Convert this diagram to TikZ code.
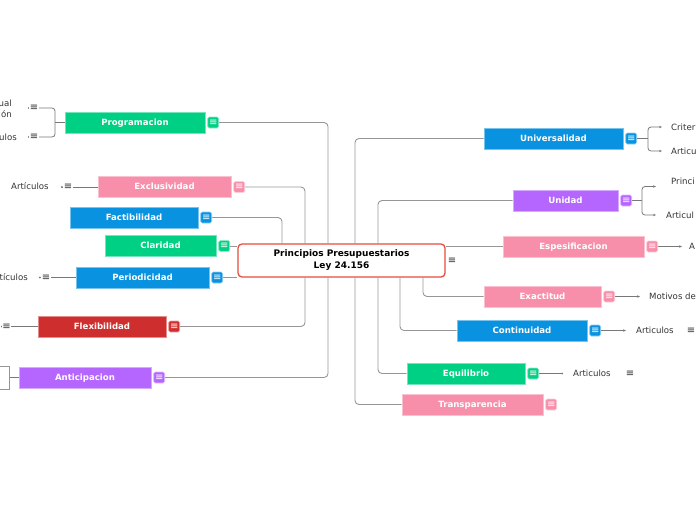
\documentclass[tikz,border=0pt]{standalone}
\usepackage{fontspec}
\setmainfont{DejaVu Sans}
\usetikzlibrary{arrows.meta, positioning, backgrounds}
\definecolor{mmgreen}{RGB}{0,208,132}
\definecolor{mmpink}{RGB}{248,143,170}
\definecolor{mmblue}{RGB}{8,146,224}
\definecolor{mmpurple}{RGB}{181,102,255}
\definecolor{mmred}{RGB}{207,46,46}
\definecolor{mmline}{RGB}{150,150,150}
\definecolor{mmtext}{RGB}{51,51,51}
\definecolor{mmcenter}{RGB}{231,76,60}

\begin{document}
\begin{tikzpicture}[x=1pt, y=-1pt,
  topic/.style={rectangle, fill=#1, draw=#1!55!white, line width=0.8pt, text=white,
                font=\fontsize{8.6}{10}\selectfont\bfseries, minimum height=21pt, inner sep=0pt,
                text centered, text depth=1pt},
  menu/.style={rectangle, rounded corners=1.5pt, fill=#1, draw=#1!45!white, line width=0.6pt,
               text=white, font=\fontsize{10}{10}\selectfont, minimum size=11pt, inner sep=0pt},
  leaf/.style={text=mmtext, font=\fontsize{8.6}{11}\selectfont, inner sep=0pt},
  note/.style={fill=white, text=mmtext, font=\fontsize{10}{10}\selectfont, inner sep=0.4pt},
  link/.style={draw=mmline, line width=0.9pt, rounded corners=4pt},
  leafarrow/.style={draw=mmline!80!black, line width=0.8pt, -{Stealth[length=3pt, width=2.4pt]}, rounded corners=3pt},
  leafdot/.style={draw=mmline!80!black, line width=0.8pt, -{Circle[length=1.8pt]}, rounded corners=3pt}
]
\useasboundingbox (0,0) rectangle (696,520);

% central topic
\node[rectangle, rounded corners=4pt, draw=mmcenter, line width=1.3pt, fill=white,
      minimum width=207pt, minimum height=33pt, align=center,
      font=\fontsize{9}{12}\selectfont\bfseries] (cen) at (341.5,260.5)
      {Principios Presupuestarios\\Ley 24.156};
\node[note] (cen-n) at (452,261) {≡};

% left topics
\node[topic=mmgreen,  minimum width=140pt] (prog) at (135,122.5) {Programacion};
\node[topic=mmpink,   minimum width=133pt] (excl) at (164.5,187) {Exclusividad};
\node[topic=mmblue,   minimum width=128pt] (fact) at (134,217.5) {Factibilidad};
\node[topic=mmgreen,  minimum width=111pt] (clar) at (160.5,246) {Claridad};
\node[topic=mmblue,   minimum width=133pt] (peri) at (142.5,277.5) {Periodicidad};
\node[topic=mmred,    minimum width=128pt] (flex) at (102,326.5) {Flexibilidad};
\node[topic=mmpurple, minimum width=132pt] (anti) at (85,377.5) {Anticipacion};

\node[menu=mmgreen,  right=2pt of prog] (prog-m) {≡};
\node[menu=mmpink,   right=2pt of excl] (excl-m) {≡};
\node[menu=mmblue,   right=2pt of fact] (fact-m) {≡};
\node[menu=mmgreen,  right=2pt of clar] (clar-m) {≡};
\node[menu=mmblue,   right=2pt of peri] (peri-m) {≡};
\node[menu=mmred,    right=2pt of flex] (flex-m) {≡};
\node[menu=mmpurple, right=2pt of anti] (anti-m) {≡};

% right topics
\node[topic=mmblue,   minimum width=139pt] (univ) at (553.5,138.5) {Universalidad};
\node[topic=mmpurple, minimum width=105pt] (unid) at (565.5,200.5) {Unidad};
\node[topic=mmpink,   minimum width=141pt] (espe) at (573.5,246.5) {Espesificacion};
\node[topic=mmpink,   minimum width=117pt] (exac) at (542.5,296.5) {Exactitud};
\node[topic=mmblue,   minimum width=130pt] (cont) at (522,330.5) {Continuidad};
\node[topic=mmgreen,  minimum width=118pt] (equi) at (466,373.5) {Equilibrio};
\node[topic=mmpink,   minimum width=141pt] (tran) at (472.5,404.5) {Transparencia};

\node[menu=mmblue,   right=2pt of univ] (univ-m) {≡};
\node[menu=mmpurple, right=2pt of unid] (unid-m) {≡};
\node[menu=mmpink,   right=2pt of espe] (espe-m) {≡};
\node[menu=mmpink,   right=2pt of exac] (exac-m) {≡};
\node[menu=mmblue,   right=2pt of cont] (cont-m) {≡};
\node[menu=mmgreen,  right=2pt of equi] (equi-m) {≡};
\node[menu=mmpink,   right=2pt of tran] (tran-m) {≡};

% left leaves
\coordinate (prog-j) at (55,122.5);
\coordinate (pa-d) at (28,108);
\coordinate (pb-d) at (28,137);
\node[note] (pa-n) at (34,108) {≡};
\node[note] (pb-n) at (34,137) {≡};
\node[leaf, anchor=east, align=right] (pa) at (12,108.5) {ual\\ón};
\node[leaf, anchor=east] (pb) at (17,137) {ulos};

\coordinate (ex-d) at (61,187);
\node[note] (ex-n) at (68,187) {≡};
\node[leaf, anchor=west] (ex) at (11,186.5) {Artículos};

\coordinate (pe-d) at (39,277.5);
\node[note] (pe-n) at (46,277.5) {≡};
\node[leaf, anchor=east] (pe) at (28,277.5) {tículos};

\coordinate (fl-d) at (1,326.5);
\node[note] (fl-n) at (6.5,326.5) {≡};

\node[rectangle, draw=mmline, line width=1pt, fill=white, minimum width=24pt,
      minimum height=23pt, anchor=east, inner sep=0pt] (an-c) at (10,377.5) {};

% right leaves
\coordinate (univ-j) at (648,138.5);
\node[leaf, anchor=west] (ua) at (671,127) {Criter};
\node[leaf, anchor=west] (ub) at (671,151) {Articu};
\coordinate (unid-j) at (642,200.5);
\coordinate (uc-t) at (656,186.5);
\coordinate (ud-t) at (656,215);
\node[leaf, anchor=west] (uc) at (671,181) {Princi};
\node[leaf, anchor=west] (ud) at (666,215) {Articul};
\node[leaf, anchor=west] (es) at (689,246.5) {A};
\node[leaf, anchor=west] (ea) at (649,296.5) {Motivos de};
\node[leaf, anchor=west] (co) at (636,330.5) {Articulos};
\node[note] (co-n) at (691,330.5) {≡};
\node[leaf, anchor=west] (eq) at (573,373.5) {Articulos};
\node[note] (eq-n) at (630,373.5) {≡};

\begin{scope}[on background layer]
% main branches
\draw[link] (prog-m.east) -| ([xshift=-13.5]cen.north);
\draw[link] (anti-m.east) -| ([xshift=-13.5]cen.south);
\draw[link] (excl-m.east) -| ([xshift=-36.5]cen.north);
\draw[link] (flex-m.east) -| ([xshift=-36.5]cen.south);
\draw[link] (fact-m.east) -| ([xshift=-59.5]cen.north);
\draw[link] (clar-m.east) -- (clar-m.east -| cen.west);
\draw[link] (peri-m.east) -- (peri-m.east -| cen.west);
\draw[link] ([xshift=13.5]cen.north) |- (univ.west);
\draw[link] ([xshift=36.5]cen.north) |- (unid.west);
\draw[link] (espe.west -| cen.east) -- (espe.west);
\draw[link] ([xshift=81.5]cen.south) |- (exac.west);
\draw[link] ([xshift=58.5]cen.south) |- (cont.west);
\draw[link] ([xshift=36.5]cen.south) |- (equi.west);
\draw[link] ([xshift=13.5]cen.south) |- (tran.west);
% left leaf lines
\draw[leafdot, -] (prog.west) -- (prog-j);
\draw[leafdot] (prog-j) |- (pa-d);
\draw[leafdot] (prog-j) |- (pb-d);
\draw[leafdot] (excl.west) -- (ex-d);
\draw[leafdot] (peri.west) -- (pe-d);
\draw[leafdot] (flex.west) -- (fl-d);
\draw[leafdot, -] (anti.west) -- (an-c.east);
% right leaf lines
\draw[leafarrow, -] (univ-m.east) -- (univ-j);
\draw[leafarrow] (univ-j) |- ([xshift=-9]ua.west);
\draw[leafarrow] (univ-j) |- ([xshift=-9]ub.west);
\draw[leafarrow, -] (unid-m.east) -- (unid-j);
\draw[leafarrow] (unid-j) |- (uc-t);
\draw[leafarrow] (unid-j) |- (ud-t);
\draw[leafarrow] (espe-m.east) -- ([xshift=-7]es.west);
\draw[leafarrow] (exac-m.east) -- ([xshift=-9]ea.west);
\draw[leafarrow] (cont-m.east) -- ([xshift=-10]co.west);
\draw[leafdot] (equi-m.east) -- ([xshift=-10]eq.west);
\end{scope}
\end{tikzpicture}
\end{document}
